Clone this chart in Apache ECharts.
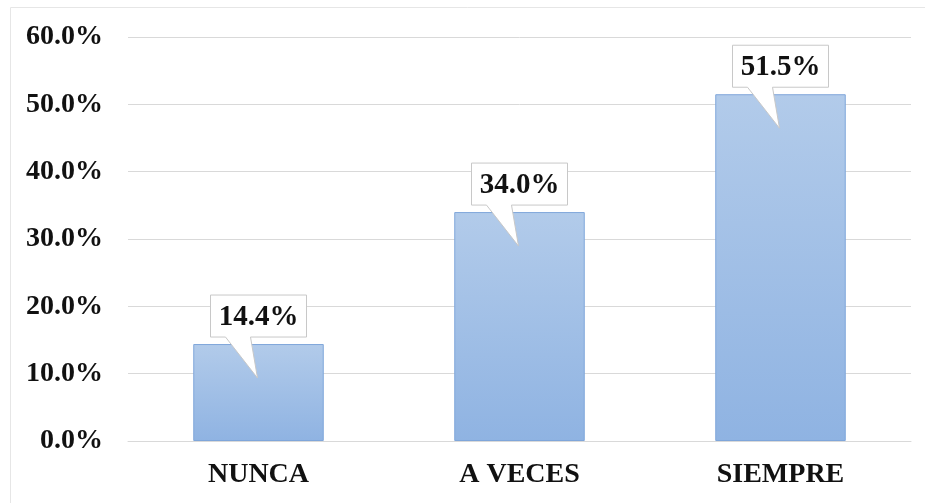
<!DOCTYPE html>
<html>
<head>
<meta charset="utf-8">
<script src="https://cdn.jsdelivr.net/npm/echarts@6/dist/echarts.min.js"></script>
<style>
html,body{margin:0;padding:0;background:#fff;}
#chart{width:925px;height:503px;}
</style>
</head>
<body>
<div id="chart"></div>
<script>
var categories = ['NUNCA', 'A VECES', 'SIEMPRE'];
var values = [14.4, 34.0, 51.5];
var yTicks = { min: 0, max: 60, interval: 10 };

var chart = echarts.init(document.getElementById('chart'), null, { renderer: 'canvas' });
var FONT = '"Liberation Serif", "Times New Roman", serif';

function fmt(v) { return v.toFixed(1) + '%'; }

var option = {
  animation: false,
  backgroundColor: '#ffffff',
  graphic: [{
    type: 'polyline',
    shape: { points: [[10.5, 503], [10.5, 7.5], [925, 7.5]] },
    style: { stroke: '#e6e6e6', lineWidth: 1, fill: null },
    z: -1
  }],
  grid: { left: 128, right: 14, top: 37, bottom: 62, containLabel: false },
  xAxis: {
    type: 'category',
    data: categories,
    axisLine: { show: true, lineStyle: { color: '#d9d9d9', width: 1 } },
    axisTick: { show: false },
    axisLabel: { color: '#111', fontFamily: FONT, fontWeight: 'bold', fontSize: 28, margin: 20 }
  },
  yAxis: {
    type: 'value',
    min: yTicks.min, max: yTicks.max, interval: yTicks.interval,
    axisLine: { show: false },
    axisTick: { show: false },
    splitLine: { lineStyle: { color: '#d9d9d9', width: 1 } },
    axisLabel: { color: '#111', fontFamily: FONT, fontWeight: 'bold', fontSize: 28, margin: 25, formatter: function (v) { return fmt(v); } }
  },
  series: [{
    type: 'bar',
    data: values,
    barWidth: '50%',
    itemStyle: {
      color: new echarts.graphic.LinearGradient(0, 0, 0, 1, [
        { offset: 0, color: '#b2cbea' },
        { offset: 1, color: '#8fb3e2' }
      ]),
      borderColor: '#7fa6da',
      borderWidth: 1
    },
    z: 2
  }, {
    type: 'custom',
    data: values.map(function (v, i) { return [i, v]; }),
    z: 5,
    renderItem: function (params, api) {
      var p = api.coord([api.value(0), api.value(1)]);
      var cx = p[0], top = p[1];
      var L = cx - 48, R = cx + 48, T = top - 49, B = top - 7;
      var pts = [[L, T], [R, T], [R, B], [cx - 8, B], [cx - 1, top + 34], [cx - 33, B], [L, B]];
      return {
        type: 'group',
        children: [{
          type: 'polygon',
          shape: { points: pts },
          style: { fill: '#ffffff', stroke: '#c8c8c8', lineWidth: 1 }
        }, {
          type: 'text',
          style: {
            x: cx, y: (T + B) / 2 + 1,
            text: fmt(api.value(1)),
            fill: '#111',
            font: 'bold 29px ' + FONT,
            align: 'center', verticalAlign: 'middle'
          }
        }]
      };
    }
  }]
};
chart.setOption(option);
</script>
</body>
</html>
